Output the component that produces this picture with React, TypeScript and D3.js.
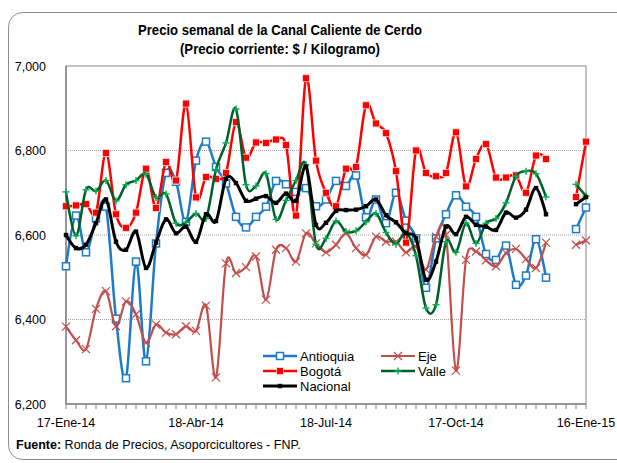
import React from "react";
import * as d3 from "d3";

const weeks: number[] = d3.range(0, 53);
const tickIndex = [0, 13, 26, 39, 52];
const tickLabels = ["17-Ene-14", "18-Abr-14", "18-Jul-14", "17-Oct-14", "16-Ene-15"];
const yTicks = [6200, 6400, 6600, 6800, 7000];

type V = number | null;

const antioquia: V[] = [
  6526, 6646, 6559, 6639, 6667, 6402, 6261, 6537, 6301, 6580,
  6747, 6726, 6631, 6776, 6821, 6761, 6722, 6643, 6618, 6643,
  6667, 6728, 6720, 6702, 6711, 6668, 6684, 6728, 6716, 6741,
  6642, 6684, 6628, 6700, 6634, 6592, 6475, 6592, 6649, 6694,
  6667, 6643, 6555, 6541, 6575, 6482, 6504, 6590, 6499, null,
  null, 6614, 6665,
];
const eje: V[] = [
  6383, 6351, 6330, 6425, 6467, 6384, 6443, 6412, 6345, 6388,
  6369, 6365, 6384, 6373, 6433, 6263, 6533, 6510, 6524, 6549,
  6447, 6565, 6569, 6537, 6604, 6580, 6559, 6577, 6604, 6569,
  6553, 6596, 6584, 6584, 6559, 6573, 6518, 6596, 6600, 6279,
  6541, 6561, 6540, 6526, 6557, 6567, 6543, 6522, 6582, null,
  null, 6577, 6587,
];
const bogota: V[] = [
  6668, 6670, 6673, 6653, 6794, 6649, 6617, 6653, 6757, 6664,
  6773, 6729, 6911, 6689, 6737, 6733, 6747, 6867, 6783, 6819,
  6818, 6826, 6813, 6646, 6971, 6776, 6700, 6668, 6757, 6761,
  6907, 6864, 6841, 6751, 6582, 6800, 6747, 6739, 6747, 6843,
  6715, 6780, 6815, 6736, 6736, 6741, 6700, 6788, 6780, null,
  null, 6690, 6821,
];
const valle: V[] = [
  6702, 6598, 6707, 6704, 6729, 6681, 6719, 6729, 6744, 6689,
  6697, 6628, 6630, 6651, 6639, 6755, 6818, 6898, 6719, 6716,
  6745, 6637, 6682, 6729, 6766, 6578, 6592, 6633, 6608, 6610,
  6631, 6651, 6606, 6578, 6606, 6551, 6427, 6435, 6584, 6559,
  6628, 6580, 6628, 6639, 6676, 6739, 6751, 6745, 6690, null,
  null, 6720, 6692,
];
const nacional: V[] = [
  6600, 6569, 6577, 6628, 6684, 6584, 6565, 6608, 6522, 6582,
  6637, 6604, 6620, 6584, 6649, 6633, 6733, 6723, 6681, 6686,
  6692, 6676, 6698, 6681, 6762, 6624, 6629, 6657, 6659, 6660,
  6668, 6684, 6647, 6630, 6604, 6592, 6494, 6537, 6620, 6602,
  6643, 6624, 6620, 6612, 6653, 6641, 6660, 6711, 6649, null,
  null, 6673, 6690,
];

const FONT = "'Liberation Sans', Arial, sans-serif";
const BLUE = "#1f7bc8";
const BROWN = "#c0504d";
const RED = "#ff0000";
const DKGREEN = "#00602b";
const LTGREEN = "#00b050";

type Marker = "openSquare" | "x" | "square" | "plus" | "smallSquare";
interface Series { name: string; data: V[]; color: string; width: number; marker: Marker; markerColor: string; }

const seriesList: Series[] = [
  { name: "Antioquia", data: antioquia, color: BLUE, width: 2.5, marker: "openSquare", markerColor: BLUE },
  { name: "Eje", data: eje, color: BROWN, width: 2.2, marker: "x", markerColor: BROWN },
  { name: "Bogotá", data: bogota, color: RED, width: 2.5, marker: "square", markerColor: RED },
  { name: "Valle", data: valle, color: DKGREEN, width: 2.5, marker: "plus", markerColor: LTGREEN },
  { name: "Nacional", data: nacional, color: "#000000", width: 3, marker: "smallSquare", markerColor: "#000000" },
];

function MarkerShape({ type, x, y, color }: { type: Marker; x: number; y: number; color: string }) {
  switch (type) {
    case "openSquare":
      return <rect x={x - 3.5} y={y - 3.5} width={7} height={7} fill="#fff" stroke={color} strokeWidth={1.5} />;
    case "square":
      return <rect x={x - 3.5} y={y - 3.5} width={7} height={7} fill={color} stroke="#ffdede" strokeWidth={0.8} />;
    case "smallSquare":
      return <rect x={x - 2.2} y={y - 2.2} width={4.4} height={4.4} fill={color} />;
    case "x":
      return (
        <g stroke={color} strokeWidth={1.2}>
          <line x1={x - 4} y1={y - 4} x2={x + 4} y2={y + 4} />
          <line x1={x - 4} y1={y + 4} x2={x + 4} y2={y - 4} />
        </g>
      );
    case "plus":
      return (
        <g stroke={color} strokeWidth={1.4}>
          <line x1={x - 3.5} y1={y} x2={x + 3.5} y2={y} />
          <line x1={x} y1={y - 3.5} x2={x} y2={y + 3.5} />
        </g>
      );
  }
}

export default function App() {
  const W = 617, H = 463;
  const left = 66, right = 586, top = 66, bottom = 404;
  const x = d3.scaleLinear().domain([0, 52]).range([left, right]);
  const y = d3.scaleLinear().domain([6200, 7000]).range([bottom, top]);
  const line = d3
    .line<V>()
    .defined((d) => d !== null)
    .x((_, i) => x(i))
    .y((d) => y(d as number))
    .curve(d3.curveCardinal.tension(0));

  const legend = [
    { s: seriesList[0], lx: 263, ly: 356 },
    { s: seriesList[1], lx: 381, ly: 356 },
    { s: seriesList[2], lx: 263, ly: 371 },
    { s: seriesList[3], lx: 381, ly: 371 },
    { s: seriesList[4], lx: 263, ly: 386 },
  ];

  return (
    <svg width={W} height={H} style={{ display: "block", position: "absolute", left: 0, top: 0 }} fontFamily={FONT}>
      <rect x={0} y={0} width={W} height={H} fill="#fff" />
      <rect x={8.5} y={12.5} width={640} height={447} rx={14} fill="#fff" stroke="#8c8c8c" strokeWidth={1} />
      <text x={280} y={35} textAnchor="middle" fontSize={15} fontWeight="bold" textLength={284} lengthAdjust="spacingAndGlyphs">Precio semanal de la Canal Caliente de Cerdo</text>
      <text x={280} y={54} textAnchor="middle" fontSize={15} fontWeight="bold" textLength={200} lengthAdjust="spacingAndGlyphs">(Precio corriente: $ / Kilogramo)</text>

      {/* gridlines */}
      {yTicks.filter((t) => t > 6200 && t < 7000).map((t) => (
        <line key={t} x1={left} x2={right} y1={y(t)} y2={y(t)} stroke="#8a8a8a" strokeWidth={0.8} strokeDasharray="1,1" />
      ))}
      {/* plot frame */}
      <rect x={left} y={top} width={right - left} height={bottom - top} fill="none" stroke="#999" strokeWidth={1.2} />
      <line x1={left} x2={left} y1={top} y2={bottom} stroke="#888" strokeWidth={1.5} />
      <line x1={left} x2={right} y1={bottom} y2={bottom} stroke="#888" strokeWidth={1.5} />

      {/* y labels */}
      {yTicks.map((t) => (
        <text key={t} x={46} y={y(t) + 4.5} textAnchor="end" fontSize={12.5} fill="#000">{d3.format(",")(t)}</text>
      ))}
      {/* x ticks */}
      {weeks.map((i) => (
        <line key={i} x1={x(i)} x2={x(i)} y1={bottom} y2={bottom + 5} stroke="#888" strokeWidth={1} />
      ))}
      {tickIndex.map((ti, k) => (
        <text key={ti} x={x(ti)} y={427} textAnchor="middle" fontSize={12.5}>{tickLabels[k]}</text>
      ))}

      {/* series */}
      {seriesList.map((s) => (
        <g key={s.name}>
          <path d={line(s.data) || ""} fill="none" stroke={s.color} strokeWidth={s.width} strokeLinejoin="round" />
          {s.data.map((v, i) =>
            v === null ? null : <MarkerShape key={i} type={s.marker} x={x(i)} y={y(v)} color={s.markerColor} />
          )}
        </g>
      ))}

      {/* legend */}
      {legend.map(({ s, lx, ly }) => (
        <g key={s.name}>
          <line x1={lx} x2={lx + 34} y1={ly} y2={ly} stroke={s.color} strokeWidth={s.width} />
          <MarkerShape type={s.marker} x={lx + 17} y={ly} color={s.markerColor} />
          <text x={lx + 37} y={ly + 4.5} fontSize={13}>{s.name}</text>
        </g>
      ))}

      <text x={16} y={449} fontSize={12.5}>
        <tspan fontWeight="bold">Fuente:</tspan>
        <tspan> Ronda de Precios, Asoporcicultores  - FNP.</tspan>
      </text>
    </svg>
  );
}
